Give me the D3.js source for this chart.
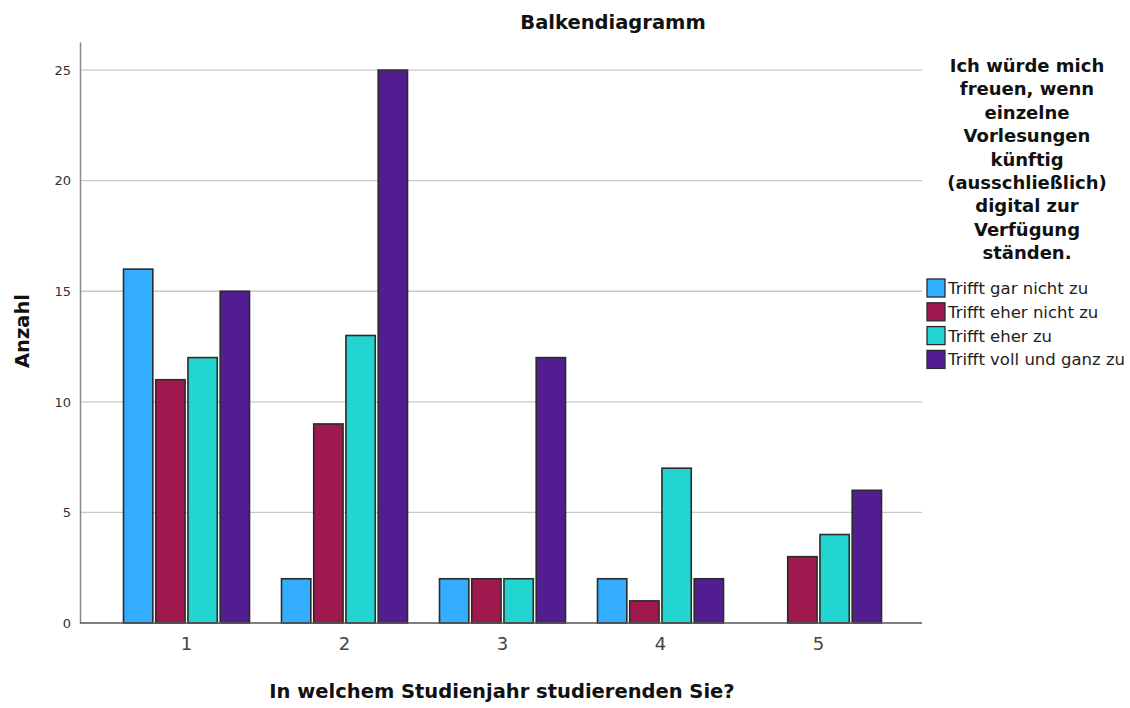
<!DOCTYPE html>
<html lang="de">
  <head>
    <meta charset="UTF-8" />
    <title>Balkendiagramm</title>
    <script src="https://d3js.org/d3.v7.min.js"></script>
    <style>
      body {
        margin: 0;
        background: #fff;
        font-family: "DejaVu Sans", Arial, sans-serif;
      }
      .grid line {
        stroke: #c8c8c8;
        stroke-width: 1.3px;
      }
      .title {
        font-weight: bold;
        font-size: 19.5px;
        text-anchor: middle;
        fill: #111;
      }
      .axis-label {
        font-weight: bold;
        font-size: 19.5px;
        text-anchor: middle;
        fill: #111;
      }
      .legend-title {
        font-weight: bold;
        font-size: 18px;
        text-anchor: middle;
        fill: #111;
      }
      .legend-text {
        font-size: 16.5px;
        fill: #222;
      }
    </style>
  </head>
  <body>
    <svg id="chart" width="1130" height="708"></svg>

    <script>
      const years = ["1", "2", "3", "4", "5"];
      const answers = [
        "Trifft gar nicht zu",
        "Trifft eher nicht zu",
        "Trifft eher zu",
        "Trifft voll und ganz zu",
      ];
      const colors = ["#33adff", "#a0194e", "#23d5d1", "#531d92"];
      // counts per year, in the order of answers
      const garNicht = [16, 2, 2, 2, 0];
      const eherNicht = [11, 9, 2, 1, 3];
      const eherZu = [12, 13, 2, 7, 4];
      const vollGanz = [15, 25, 12, 2, 6];
      const yTicks = [0, 5, 10, 15, 20, 25];
      const legendTitleLines = [
        "Ich würde mich",
        "freuen, wenn",
        "einzelne",
        "Vorlesungen",
        "künftig",
        "(ausschließlich)",
        "digital zur",
        "Verfügung",
        "ständen.",
      ];

      const series = [garNicht, eherNicht, eherZu, vollGanz];
      const rows = [];
      years.forEach((yr, i) => {
        answers.forEach((a, j) => {
          rows.push({ year: yr, answer: a, value: series[j][i], color: colors[j] });
        });
      });

      const plot = { left: 80, right: 922, top: 42, bottom: 623 };

      const svg = d3.select("#chart");

      const x = d3.scaleBand().domain(years).range([107.5, 897.5]).padding(0);
      const xInner = d3
        .scaleBand()
        .domain(answers)
        .range([16, x.bandwidth() - 16])
        .paddingInner(0.09);
      const y = d3
        .scaleLinear()
        .domain([0, 26.27])
        .range([plot.bottom, plot.top]);

      // gridlines
      svg
        .append("g")
        .attr("class", "grid")
        .selectAll("line")
        .data(yTicks.filter((d) => d > 0))
        .enter()
        .append("line")
        .attr("x1", plot.left)
        .attr("x2", plot.right)
        .attr("y1", (d) => y(d))
        .attr("y2", (d) => y(d));

      // y axis
      const yAxis = svg
        .append("g")
        .attr("transform", `translate(${plot.left},0)`)
        .call(d3.axisLeft(y).tickValues(yTicks).tickSize(0).tickPadding(9));
      yAxis.select(".domain").attr("stroke", "#888").attr("stroke-width", 1.5);
      yAxis
        .selectAll("text")
        .attr("font-size", 13)
        .attr("font-family", "'DejaVu Sans', sans-serif")
        .attr("fill", "#333");

      // bars
      svg
        .append("g")
        .selectAll("rect")
        .data(rows.filter((d) => d.value > 0))
        .enter()
        .append("rect")
        .attr("x", (d) => x(d.year) + xInner(d.answer))
        .attr("y", (d) => y(d.value))
        .attr("width", xInner.bandwidth())
        .attr("height", (d) => y(0) - y(d.value))
        .attr("fill", (d) => d.color)
        .attr("stroke", "#2b2b2b")
        .attr("stroke-width", 1.6);

      // x axis
      const xAxis = svg
        .append("g")
        .attr("transform", `translate(0,${plot.bottom})`)
        .call(d3.axisBottom(x).tickSize(0).tickPadding(14));
      xAxis.select(".domain").remove();
      xAxis
        .selectAll("text")
        .attr("font-size", 18)
        .attr("font-family", "'DejaVu Sans', sans-serif")
        .attr("fill", "#444");
      svg
        .append("line")
        .attr("x1", plot.left)
        .attr("x2", plot.right)
        .attr("y1", plot.bottom)
        .attr("y2", plot.bottom)
        .attr("stroke", "#555")
        .attr("stroke-width", 1.5);

      // titles
      svg.append("text").attr("class", "title").attr("x", 613).attr("y", 29).text("Balkendiagramm");
      svg
        .append("text")
        .attr("class", "axis-label")
        .attr("x", 502)
        .attr("y", 698)
        .text("In welchem Studienjahr studierenden Sie?");
      svg
        .append("text")
        .attr("class", "axis-label")
        .attr("transform", "rotate(-90)")
        .attr("x", -331)
        .attr("y", 29)
        .text("Anzahl");

      // legend
      const legendTitle = svg.append("text").attr("class", "legend-title");
      legendTitleLines.forEach((line, i) => {
        legendTitle
          .append("tspan")
          .attr("x", 1027)
          .attr("y", 72 + i * 23.4)
          .text(line);
      });

      const legend = svg
        .append("g")
        .selectAll("g")
        .data(answers)
        .enter()
        .append("g")
        .attr("transform", (d, i) => `translate(927,${279 + i * 23.8})`);
      legend
        .append("rect")
        .attr("width", 18)
        .attr("height", 18)
        .attr("fill", (d, i) => colors[i])
        .attr("stroke", "#2b2b2b")
        .attr("stroke-width", 1.3);
      legend
        .append("text")
        .attr("class", "legend-text")
        .attr("x", 21)
        .attr("y", 15)
        .text((d) => d);
    </script>
  </body>
</html>
